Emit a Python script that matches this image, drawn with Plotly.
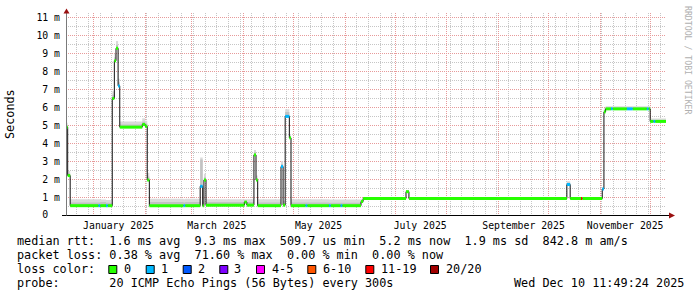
import plotly.graph_objects as go

# ---------------- data ----------------
range_start = "2024-12-15 11:49:24"
range_end = "2025-12-10 11:49:24"

seg_start = [
    "2024-12-15 11:49", "2024-12-16 12:00", "2024-12-18 00:00", "2025-01-04 00:00",
    "2025-01-05 00:00", "2025-01-08 12:00", "2025-01-09 12:00", "2025-01-12 06:00",
    "2025-01-13 12:00", "2025-01-14 12:00", "2025-01-15 18:00", "2025-01-16 18:00",
    "2025-01-30 06:00", "2025-02-01 00:00", "2025-02-02 06:00", "2025-02-03 12:00",
    "2025-02-24 00:00", "2025-02-25 00:00", "2025-03-06 00:00", "2025-03-07 12:00",
    "2025-03-08 06:00", "2025-03-09 12:00", "2025-04-01 12:00", "2025-04-03 00:00",
    "2025-04-07 06:00", "2025-04-08 12:00", "2025-04-09 12:00", "2025-04-23 12:00",
    "2025-04-24 18:00", "2025-04-26 00:00", "2025-04-28 12:00", "2025-04-29 12:00",
    "2025-05-08 06:00", "2025-05-09 06:00", "2025-05-22 06:00", "2025-05-23 06:00",
    "2025-05-29 06:00", "2025-05-30 06:00", "2025-06-10 12:00", "2025-06-11 18:00",
    "2025-07-07 12:00", "2025-07-09 06:00", "2025-10-12 00:00", "2025-10-14 00:00",
    "2025-10-20 12:00", "2025-10-21 06:00", "2025-11-02 06:00", "2025-11-03 06:00",
    "2025-11-04 06:00", "2025-11-07 12:00", "2025-11-08 12:00", "2025-11-17 00:00",
    "2025-11-20 12:00", "2025-11-29 00:00", "2025-11-30 00:00", "2025-12-01 00:00",
    "2025-12-03 00:00", "2025-12-04 00:00",
]
median_ms = [
    4.90, 2.20, 0.52, 0.52, 0.52, 0.52, 0.52, 6.50,
    8.60, 9.30, 7.20, 4.90, 5.05, 4.95, 1.95, 0.52,
    0.52, 0.52, 1.60, 0.52, 1.95, 0.55, 0.72, 0.55,
    3.35, 1.95, 0.52, 2.70, 0.55, 5.50, 4.30, 0.52,
    0.52, 0.52, 0.52, 0.52, 0.52, 0.52, 0.75, 0.92,
    1.30, 0.92, 1.70, 0.92, 0.92, 0.92, 1.45, 5.75,
    5.92, 5.92, 5.92, 5.92, 5.92, 5.92, 5.92, 5.22,
    5.22, 5.22,
]
loss_class = [
    0, 0, 0, 1, 0, 1, 0, 0,
    0, 0, 1, 0, 0, 0, 0, 0,
    1, 0, 1, 0, 0, 0, 0, 0,
    0, 0, 0, 1, 0, 1, 0, 0,
    1, 0, 1, 0, 1, 0, 0, 0,
    0, 0, 1, 0, 6, 0, 1, 0,
    0, 1, 0, 1, 0, 1, 0, 0,
    1, 0,
]
smoke_mid_ms = [
    5.00, 2.32, 0.70, 0.70, 0.72, 0.68, 0.68, 6.70,
    8.80, 9.50, 7.40, 5.05, 5.20, 5.10, 2.15, 0.72,
    0.70, 0.72, 3.10, 0.62, 2.10, 0.72, 0.78, 0.72,
    3.50, 2.05, 0.70, 2.85, 0.65, 5.75, 4.40, 0.70,
    0.70, 0.70, 0.68, 0.68, 0.68, 0.68, 0.80, 0.95,
    1.35, 0.95, 1.80, 0.95, 0.95, 0.95, 1.50, 5.85,
    5.98, 5.98, 5.98, 5.98, 5.98, 5.98, 5.98, 5.30,
    5.30, 5.30,
]
smoke_hi_ms = [
    5.15, 2.45, 0.88, 0.88, 0.86, 0.84, 0.84, 6.90,
    9.00, 9.70, 7.60, 5.22, 5.40, 5.25, 2.35, 0.90,
    0.88, 0.90, 3.20, 0.75, 2.30, 0.88, 0.88, 0.88,
    3.62, 2.20, 0.88, 3.00, 0.80, 5.90, 4.50, 0.88,
    0.88, 0.88, 0.86, 0.86, 0.86, 0.86, 0.88, 0.99,
    1.40, 0.99, 1.88, 0.99, 0.99, 0.99, 1.55, 5.95,
    6.06, 6.06, 6.06, 6.06, 6.06, 6.06, 6.06, 5.38,
    5.38, 5.38,
]

loss_labels = ["0", "1", "2", "3", "4-5", "6-10", "11-19", "20/20"]
loss_colors = ["#26ff00", "#00b8ff", "#0059ff", "#7e00ff",
               "#ff00ff", "#ff5500", "#ff0000", "#a10000"]

month_label_dates = ["2025-01-16", "2025-03-16", "2025-05-16",
                     "2025-07-16", "2025-09-16", "2025-11-16"]
month_labels = ["January 2025", "March 2025", "May 2025",
                "July 2025", "September 2025", "November 2025"]

y_tick_vals = list(range(12))
y_tick_text = ["0\u00a0\u00a0"] + [f"{v}\u00a0m" for v in range(1, 12)]
y_minor_vals = [v + 0.5 for v in range(11)]

line_rtt = "median rtt:  1.6 ms avg  9.3 ms max  509.7 us min  5.2 ms now  1.9 ms sd  842.8 m am/s"
line_loss = "packet loss: 0.38 % avg  71.60 % max  0.00 % min  0.00 % now"
line_color = "loss color:"
line_probe = "probe:       20 ICMP Echo Pings (56 Bytes) every 300s"
stamp = "Wed Dec 10 11:49:24 2025"

# ---------------- geometry helpers (pixel -> paper) ----------------
W, H = 697, 297
L, T = 66, 13
PW, PH = 600, 202
R = W - L - PW
B = H - T - PH


def px(x):
    return (x - L) / PW


def py(y):
    return (T + PH - y) / PH


def nb(s):
    return s.replace(" ", "\u00a0")


MONO = "DejaVu Sans Mono"

# ---------------- traces ----------------
xs = seg_start + [range_end]


def ext(v):
    return list(v) + [v[-1]]


fig = go.Figure()

# smoke (outer band)
fig.add_trace(go.Scatter(x=xs, y=ext(median_ms), mode="lines",
                         line=dict(width=0, shape="hv"), hoverinfo="skip"))
fig.add_trace(go.Scatter(x=xs, y=ext(smoke_hi_ms), mode="lines",
                         line=dict(width=0, shape="hv"), fill="tonexty",
                         fillcolor="#dadada", hoverinfo="skip"))
# smoke (inner band)
fig.add_trace(go.Scatter(x=xs, y=ext(median_ms), mode="lines",
                         line=dict(width=0, shape="hv"), hoverinfo="skip"))
fig.add_trace(go.Scatter(x=xs, y=ext(smoke_mid_ms), mode="lines",
                         line=dict(width=0, shape="hv"), fill="tonexty",
                         fillcolor="#c2c2c2", hoverinfo="skip"))

# median black step line
fig.add_trace(go.Scatter(x=xs, y=ext(median_ms), mode="lines",
                         line=dict(width=1, shape="hv", color="#101010"),
                         hoverinfo="skip"))

# loss-coloured median segments
for c, col in enumerate(loss_colors):
    sx, sy = [], []
    for i, lc in enumerate(loss_class):
        if lc == c:
            sx += [xs[i], xs[i + 1], None]
            sy += [median_ms[i], median_ms[i], None]
    if sx:
        fig.add_trace(go.Scatter(x=sx, y=sy, mode="lines",
                                 line=dict(width=3, color=col),
                                 hoverinfo="skip"))

# invisible trace to carry the label axis
fig.add_trace(go.Scatter(x=[month_label_dates[0]], y=[0], xaxis="x2",
                         mode="markers", marker=dict(opacity=0),
                         hoverinfo="skip"))

MGRID = "#e79a9a"
GRID = "#c6c6c6"

fig.update_layout(
    width=W, height=H,
    margin=dict(l=L, r=R, t=T, b=B, pad=0),
    paper_bgcolor="white", plot_bgcolor="white",
    showlegend=False,
    xaxis=dict(
        type="date", range=[range_start, range_end],
        showgrid=True, gridcolor=MGRID, gridwidth=1, griddash="1px,1px",
        tick0="2025-01-01", dtick="M1",
        showticklabels=False, ticks="", zeroline=False, showline=False,
        minor=dict(tick0="2024-12-15", dtick=7 * 86400000, showgrid=True,
                   gridcolor=GRID, gridwidth=1, griddash="1px,1px"),
    ),
    xaxis2=dict(
        type="date", range=[range_start, range_end], overlaying="x",
        side="bottom", anchor="y",
        tickmode="array", tickvals=month_label_dates, ticktext=month_labels,
        showgrid=False, ticks="", zeroline=False, showline=False,
        ticklabelstandoff=3,
        tickfont=dict(family=MONO, size=9.8, color="#000000"),
    ),
    yaxis=dict(
        range=[0, PH / 17.93],
        tickmode="array", tickvals=y_tick_vals, ticktext=y_tick_text,
        showgrid=True, gridcolor=MGRID, gridwidth=1, griddash="1px,1px",
        ticks="", ticklabelstandoff=5,
        zeroline=False, showline=False,
        tickfont=dict(family=MONO, size=9.8, color="#000000"),
        minor=dict(tickmode="array", tickvals=y_minor_vals, showgrid=True,
                   gridcolor=GRID, gridwidth=1, griddash="1px,1px"),
    ),
)

shapes = []
# axes lines
shapes.append(dict(type="line", xref="paper", yref="paper",
                   x0=px(62), x1=px(670), y0=py(215.5), y1=py(215.5),
                   line=dict(color="#000000", width=1)))
shapes.append(dict(type="line", xref="paper", yref="paper",
                   x0=px(66.5), x1=px(66.5), y0=py(215.5), y1=py(12),
                   line=dict(color="#7a7a7a", width=1)))
# arrows
shapes.append(dict(type="path", xref="paper", yref="paper",
                   path=f"M {px(63.5)} {py(13.5)} L {px(69.5)} {py(13.5)} L {px(66.5)} {py(8.5)} Z",
                   fillcolor="#9a1010", line=dict(width=0)))
shapes.append(dict(type="path", xref="paper", yref="paper",
                   path=f"M {px(669)} {py(212.5)} L {px(669)} {py(218.5)} L {px(675)} {py(215.5)} Z",
                   fillcolor="#9a1010", line=dict(width=0)))

# legend colour boxes
box_x = [108.3, 145.7, 182.7, 219.3, 256.0, 307.3, 365.3, 430.0]
lab_x = [123.3, 160.0, 196.7, 233.3, 270.7, 321.7, 380.0, 445.0]
for bx, col in zip(box_x, loss_colors):
    shapes.append(dict(type="rect", xref="paper", yref="paper",
                       x0=px(bx + 0.5), x1=px(bx + 8.5),
                       y0=py(273.5), y1=py(265.5),
                       fillcolor=col, line=dict(color="#000000", width=1)))
fig.update_layout(shapes=shapes)

ann = []


def text(x, y, s, size=11.8, color="#000000", xanchor="left", angle=0):
    ann.append(dict(xref="paper", yref="paper", x=px(x), y=py(y), text=nb(s),
                    showarrow=False, xanchor=xanchor, yanchor="middle",
                    borderpad=0, textangle=angle,
                    font=dict(family=MONO, size=size, color=color)))


text(16, 241.5, line_rtt)
text(16, 255.3, line_loss)
text(16, 269.0, line_color)
for lx, lab in zip(lab_x, loss_labels):
    text(lx, 269.0, lab)
text(16, 282.8, line_probe)
text(512.5, 282.8, stamp)

ann.append(dict(xref="paper", yref="paper", x=px(10), y=py(114),
                text="Seconds", showarrow=False, textangle=-90,
                xanchor="center", yanchor="middle",
                font=dict(family=MONO, size=11.8, color="#000000")))
ann.append(dict(xref="paper", yref="paper", x=px(688), y=py(60),
                text=nb("RRDTOOL / TOBI OETIKER"), showarrow=False, textangle=90,
                xanchor="center", yanchor="middle",
                font=dict(family=MONO, size=8.2, color="#b0b0b0")))
fig.update_layout(annotations=ann)

fig.write_html("out.html")
